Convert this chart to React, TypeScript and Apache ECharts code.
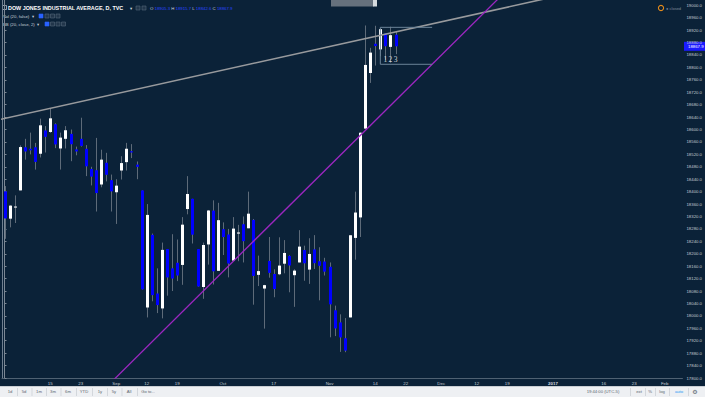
import React, { useEffect, useRef } from "react";
import * as echarts from "echarts";

// ---------- DATA ----------
const tradingDates = [
  "2016-08-02","2016-08-03","2016-08-04","2016-08-05","2016-08-08","2016-08-09","2016-08-10","2016-08-11","2016-08-12","2016-08-15",
  "2016-08-16","2016-08-17","2016-08-18","2016-08-19","2016-08-22","2016-08-23","2016-08-24","2016-08-25","2016-08-26","2016-08-29",
  "2016-08-30","2016-08-31","2016-09-01","2016-09-02","2016-09-06","2016-09-07","2016-09-08","2016-09-09","2016-09-12","2016-09-13",
  "2016-09-14","2016-09-15","2016-09-16","2016-09-19","2016-09-20","2016-09-21","2016-09-22","2016-09-23","2016-09-26","2016-09-27",
  "2016-09-28","2016-09-29","2016-09-30","2016-10-03","2016-10-04","2016-10-05","2016-10-06","2016-10-07","2016-10-10","2016-10-11",
  "2016-10-12","2016-10-13","2016-10-14","2016-10-17","2016-10-18","2016-10-19","2016-10-20","2016-10-21","2016-10-24","2016-10-25",
  "2016-10-26","2016-10-27","2016-10-28","2016-10-31","2016-11-01","2016-11-02","2016-11-03","2016-11-04","2016-11-07","2016-11-08",
  "2016-11-09","2016-11-10","2016-11-11","2016-11-14","2016-11-15","2016-11-16","2016-11-17","2016-11-18"
];
const futureDates = [
  "2016-11-21","2016-11-22","2016-11-23","2016-11-24","2016-11-25","2016-11-28","2016-11-29","2016-11-30","2016-12-01","2016-12-02",
  "2016-12-05","2016-12-06","2016-12-07","2016-12-08","2016-12-09","2016-12-12","2016-12-13","2016-12-14","2016-12-15","2016-12-16",
  "2016-12-19","2016-12-20","2016-12-21","2016-12-22","2016-12-23","2016-12-26","2016-12-27","2016-12-28","2016-12-29","2016-12-30",
  "2017-01-02","2017-01-03","2017-01-04","2017-01-05","2017-01-06","2017-01-09","2017-01-10","2017-01-11","2017-01-12","2017-01-13",
  "2017-01-16","2017-01-17","2017-01-18","2017-01-19","2017-01-20","2017-01-23","2017-01-24","2017-01-25","2017-01-26","2017-01-27",
  "2017-01-30","2017-01-31","2017-02-01","2017-02-02","2017-02-03","2017-02-06"
];
const opens = [
  18401, 18313, 18351, 18404, 18543, 18538, 18543, 18522, 18597, 18592,
  18617, 18539, 18570, 18586, 18536, 18570, 18538, 18473, 18469, 18423,
  18493, 18437, 18398, 18468, 18495, 18530, 18487, 18404, 18027, 18261,
  18072, 18024, 18215, 18153, 18171, 18164, 18344, 18377, 18215, 18093,
  18230, 18339, 18145, 18279, 18262, 18178, 18265, 18295, 18282, 18309,
  18132, 18088, 18177, 18135, 18134, 18168, 18193, 18131, 18172, 18212,
  18149, 18214, 18176, 18175, 18158, 18018, 17979, 17928, 17995, 18251,
  18317, 18603, 18782, 18876, 18858, 18909, 18866, 18905.3
];
const closes = [
  18313.77, 18355.0, 18352.05, 18543.53, 18529.29, 18533.05, 18495.66, 18613.52, 18576.47, 18636.05,
  18552.02, 18573.94, 18597.7, 18552.57, 18529.42, 18547.3, 18481.48, 18448.41, 18395.4, 18502.99,
  18454.3, 18400.88, 18419.3, 18491.96, 18538.12, 18526.14, 18479.91, 18085.45, 18325.07, 18066.75,
  18034.77, 18212.48, 18123.8, 18120.17, 18129.96, 18293.7, 18392.46, 18261.45, 18094.83, 18228.3,
  18339.24, 18143.45, 18308.15, 18253.85, 18168.45, 18281.03, 18268.5, 18240.49, 18329.04, 18128.66,
  18144.2, 18098.94, 18138.38, 18086.4, 18161.94, 18202.62, 18162.35, 18145.71, 18223.03, 18169.27,
  18199.33, 18169.68, 18161.19, 18142.42, 18037.1, 17959.64, 17930.67, 17888.28, 18259.6, 18332.74,
  18589.69, 18807.88, 18847.66, 18868.69, 18923.06, 18868.14, 18903.82, 18867.93
];
const lows = [
  18248, 18285, 18299, 18404, 18503, 18520, 18471, 18510, 18526, 18589,
  18540, 18471, 18539, 18498, 18517, 18545, 18450, 18420, 18336, 18414,
  18433, 18336, 18296, 18439, 18468, 18508, 18440, 18085, 17995, 18047,
  18009, 17992, 18065, 18080, 18112, 18100, 18327, 18233, 18094, 18055,
  18165, 18101, 18145, 18196, 18124, 18178, 18176, 18172, 18282, 18036,
  18096, 17959, 18123, 18060, 18131, 18137, 18076, 18029, 18172, 18113,
  18103, 18151, 18050, 18130, 17931, 17935, 17884, 17883, 17995, 18181,
  18254, 18603, 18750, 18806, 18836, 18824, 18815, 18842.6
];
const highs = [
  18418, 18356, 18388, 18549, 18570, 18590, 18557, 18635, 18611, 18668,
  18620, 18590, 18611, 18600, 18545, 18638, 18550, 18480, 18573, 18535,
  18525, 18455, 18440, 18514, 18557, 18553, 18497, 18404, 18360, 18265,
  18153, 18236, 18215, 18263, 18246, 18318, 18450, 18377, 18215, 18236,
  18341, 18372, 18364, 18301, 18280, 18318, 18293, 18320, 18400, 18312,
  18194, 18100, 18254, 18150, 18253, 18244, 18195, 18150, 18276, 18226,
  18250, 18260, 18221, 18187, 18172, 18033, 18005, 17993, 18260, 18400,
  18591, 18935, 18863, 18934, 18925, 18909, 18931, 18915.7
];
const xTickIndex = [9, 15, 22, 28, 34, 43, 53, 64, 73, 79, 86, 93, 99, 108, 118, 124, 130];
const xTickText = ["15", "23", "Sep", "12", "19", "Oct", "17", "Nov", "14", "22", "Dec", "12", "19", "2017", "16", "23", "Feb"];
const yMin = 17800;
const yMax = 19017;
const yStep = 40;
// drawings (index, price)
const grayTrend = [[-1, 18632], [112, 19041]];
const purpleTrend = [[20, 17770], [100, 19066]];
const bracketPath = [[84.2, 18929], [74, 18929], [74, 18810], [84.2, 18810]];
const countText = ["1", "2", "3"];
const countIndex = [75, 76, 77];
const countPrice = 18824;
const leftButtons = ["1d", "5d", "1m", "3m", "6m", "YTD", "1y", "5y", "All", "Go to..."];
const rightButtons = ["19:44:00 (UTC-5)", "ext", "%", "log", "auto", "\u2699"];

const BG = "#0b2238";
const FONT = "Liberation Sans, Arial, sans-serif";

export default function App() {
  const ref = useRef<HTMLDivElement>(null);
  useEffect(() => {
    if (!ref.current) return;
    const chart = echarts.init(ref.current, undefined, { renderer: "svg" });
    const allDates = tradingDates.concat(futureDates);
    const nCat = allDates.length;
    const tickMap: Record<number, string> = {};
    xTickIndex.forEach((ix, k) => (tickMap[ix] = xTickText[k]));
    const ohlc = closes.map((c, i) => [i, opens[i], c, lows[i], highs[i]]);

    chart.setOption({
      animation: false,
      backgroundColor: BG,
      textStyle: { fontFamily: FONT },
      grid: { left: 2, right: 21, top: 0, bottom: 19, containLabel: false },
      xAxis: [
        {
          type: "category",
          data: allDates,
          boundaryGap: true,
          axisLine: { show: true, lineStyle: { color: "#4f6172", width: 1 } },
          axisTick: { show: false },
          splitLine: { show: false },
          axisLabel: {
            interval: (index: number) => tickMap[index] !== undefined,
            formatter: (_v: string, index: number) => {
              const t = tickMap[index] || "";
              return t === "2017" ? "{b|2017}" : t;
            },
            rich: { b: { fontWeight: "bold", fontSize: 4.4, color: "#d6dbe0" } },
            color: "#c3cad2",
            fontSize: 4.4,
            margin: 3,
          },
        },
        { type: "value", min: -0.5, max: nCat - 0.5, show: false },
      ],
      yAxis: [
        {
          type: "value",
          position: "right",
          min: yMin,
          max: yMax,
          interval: yStep,
          axisLine: { show: true, lineStyle: { color: "#7b8794" } },
          axisTick: { show: true, length: 2, lineStyle: { color: "#7b8794" } },
          splitLine: { show: false },
          axisLabel: {
            showMaxLabel: false,
            color: "#c3cad2",
            fontSize: 4.3,
            margin: 4,
            formatter: (v: number) =>
              Math.abs(v - Math.round(v / yStep) * yStep) < 0.01 ? v.toFixed(1) : "",
          },
        },
        {
          type: "value",
          position: "left",
          axisLine: { show: true, lineStyle: { color: "#6f7f90" } },
          axisTick: { show: false },
          axisLabel: { show: false },
          splitLine: { show: false },
        },
      ],
      series: [
        {
          type: "custom",
          xAxisIndex: 1,
          yAxisIndex: 0,
          clip: true,
          encode: { x: 0, y: [1, 2, 3, 4] },
          data: ohlc,
          renderItem: (_p: any, api: any) => {
            const i = api.value(0);
            const o = api.value(1);
            const c = api.value(2);
            const l = api.value(3);
            const h = api.value(4);
            const pO = api.coord([i, o]);
            const pC = api.coord([i, c]);
            const pL = api.coord([i, l]);
            const pH = api.coord([i, h]);
            const x = Math.round(pO[0]) + 0.5;
            const top = Math.min(pO[1], pC[1]);
            const bot = Math.max(pO[1], pC[1]);
            const up = c >= o;
            return {
              type: "group",
              children: [
                {
                  type: "line",
                  shape: { x1: x, y1: pH[1], x2: x, y2: pL[1] },
                  style: { stroke: "#5e6b79", lineWidth: 1 },
                },
                {
                  type: "rect",
                  shape: { x: x - 1.5, y: top, width: 3, height: Math.max(1, bot - top) },
                  style: { fill: up ? "#ffffff" : "#0000ff" },
                },
              ],
            };
          },
        },
        {
          type: "line",
          xAxisIndex: 1,
          yAxisIndex: 0,
          data: grayTrend,
          symbol: "none",
          silent: true,
          clip: true,
          lineStyle: { color: "#989a9d", width: 1.6 },
        },
        {
          type: "line",
          xAxisIndex: 1,
          yAxisIndex: 0,
          data: purpleTrend,
          symbol: "none",
          silent: true,
          clip: true,
          lineStyle: { color: "#9c27c0", width: 1.3 },
        },
        {
          type: "line",
          xAxisIndex: 1,
          yAxisIndex: 0,
          data: bracketPath,
          symbol: "none",
          silent: true,
          clip: true,
          lineStyle: { color: "#6c8498", width: 1 },
        },
        {
          type: "scatter",
          xAxisIndex: 1,
          yAxisIndex: 0,
          symbolSize: 0,
          silent: true,
          data: countIndex.map((ix, k) => ({
            value: [ix, countPrice],
            label: {
              show: true,
              position: "inside",
              formatter: countText[k],
              color: "#ffffff",
              fontFamily: "Liberation Serif, serif",
              fontSize: 7.5,
            },
          })),
        },
      ],
    });

    // graphics that depend on computed positions
    const last = closes.length - 1;
    const lastY = chart.convertToPixel({ xAxisIndex: 1, yAxisIndex: 0 } as any, [last, closes[last]])[1];
    const W = 705;
    const H = 397;
    const txt = (x: number, y: number, text: string, style: any = {}) => ({
      type: "text",
      x,
      y,
      style: {
        text,
        fill: "#c8d0d8",
        fontSize: 4.3,
        fontFamily: FONT,
        verticalAlign: "middle",
        ...style,
      },
    });
    const box = (x: number, y: number, fill: string, stroke: string) => ({
      type: "rect",
      shape: { x, y, width: 4, height: 4 },
      style: { fill, stroke, lineWidth: 0.6 },
    });

    const leftX = [10, 24, 39, 53, 68, 84, 100, 114, 129, 148];
    const rightX = [603, 639, 650, 662, 679, 695];
    const sepLeft = [17, 31.5, 46, 60.5, 76, 92, 107, 121.5, 137];
    const sepRight = [630, 645, 655, 669, 688];
    const toolbarY = 386;

    const graphics: any[] = [
      // top middle box
      { type: "rect", shape: { x: 331, y: 0, width: 43, height: 6.5 }, style: { fill: "#66717d" } },
      { type: "rect", shape: { x: 373, y: 0, width: 4, height: 6.5 }, style: { fill: "#d5dade" } },
      // header line 1
      { type: "rect", shape: { x: 2.5, y: 5.5, width: 4, height: 4 }, style: { fill: "none", stroke: "#cfd6dd", lineWidth: 0.7 } },
      txt(8, 8, "DOW JONES INDUSTRIAL AVERAGE, D, TVC", { fill: "#ffffff", fontWeight: "bold", fontSize: 5.4 }),
      txt(130, 8, "\u25BE", { fill: "#cfd6dd", fontFamily: "DejaVu Sans", fontSize: 4.5 }),
      box(136, 6, "#22364b", "#55687a"),
      box(142, 6, "#22364b", "#55687a"),
      {
        type: "text",
        x: 150,
        y: 8,
        style: {
          text: `{l|O} {v|${opens[last].toFixed(1)}} {l|H} {v|${highs[last].toFixed(1)}} {l|L} {v|${lows[last].toFixed(1)}} {l|C} {v|${closes[last].toFixed(1)}}`,
          verticalAlign: "middle",
          fontFamily: FONT,
          fontSize: 4.3,
          rich: {
            l: { fill: "#d0d6dc", fontSize: 4.3, fontFamily: FONT },
            v: { fill: "#2a45ff", fontSize: 4.3, fontFamily: FONT },
          },
        },
      },
      // header line 2
      txt(3, 16, "Vol (20, false)"),
      txt(32, 16, "\u25BE", { fontFamily: "DejaVu Sans", fontSize: 4.3 }),
      box(39, 14, "#2962ff", "#2962ff"),
      box(45, 14, "#22364b", "#55687a"),
      box(50.5, 14, "#22364b", "#55687a"),
      box(56, 14, "#22364b", "#55687a"),
      // header line 3
      txt(3, 24, "BB (20, close, 2)"),
      txt(37, 24, "\u25BE", { fontFamily: "DejaVu Sans", fontSize: 4.3 }),
      box(45, 22, "#2962ff", "#2962ff"),
      box(50.5, 22, "#22364b", "#55687a"),
      box(56, 22, "#22364b", "#55687a"),
      box(61.5, 22, "#22364b", "#55687a"),
      // top right status
      { type: "circle", shape: { cx: 661, cy: 8, r: 2.6 }, style: { fill: "none", stroke: "#e38b1c", lineWidth: 1.1 } },
      txt(666, 8, "\u25CF closed", { fill: "#7f8b98", fontSize: 4 }),
      // last price label
      { type: "rect", shape: { x: 684, y: lastY - 4.5, width: 21, height: 9 }, style: { fill: "#1a1aff" } },
      txt(688, lastY, closes[last].toFixed(1), { fill: "#ffffff", fontSize: 4.3 }),
      // bottom toolbar
      { type: "rect", shape: { x: 0, y: toolbarY, width: W, height: H - toolbarY }, style: { fill: "#eef0f3" } },
      { type: "line", shape: { x1: 0, y1: toolbarY + 0.5, x2: W, y2: toolbarY + 0.5 }, style: { stroke: "#c9ced4", lineWidth: 1 } },
    ];
    leftButtons.forEach((b, k) => {
      graphics.push(txt(leftX[k], 391.5, b, { fill: "#5b6570", textAlign: "center", fontSize: 4.2 }));
    });
    rightButtons.forEach((b, k) => {
      const isGear = b === "\u2699";
      graphics.push(
        txt(rightX[k], 391.5, b, {
          fill: b === "auto" ? "#2196f3" : "#5b6570",
          textAlign: "center",
          fontSize: isGear ? 6 : 4.2,
          fontFamily: isGear ? "DejaVu Sans" : FONT,
        })
      );
    });
    sepLeft.concat(sepRight).forEach((sx) => {
      graphics.push({
        type: "line",
        shape: { x1: sx + 0.5, y1: toolbarY + 2, x2: sx + 0.5, y2: H - 1 },
        style: { stroke: "#d3d7dc", lineWidth: 1 },
      });
    });
    chart.setOption({ graphic: graphics });

    return () => chart.dispose();
  }, []);

  return (
    <div
      ref={ref}
      style={{ position: "fixed", left: 0, top: 0, width: 705, height: 397, background: BG }}
    />
  );
}
